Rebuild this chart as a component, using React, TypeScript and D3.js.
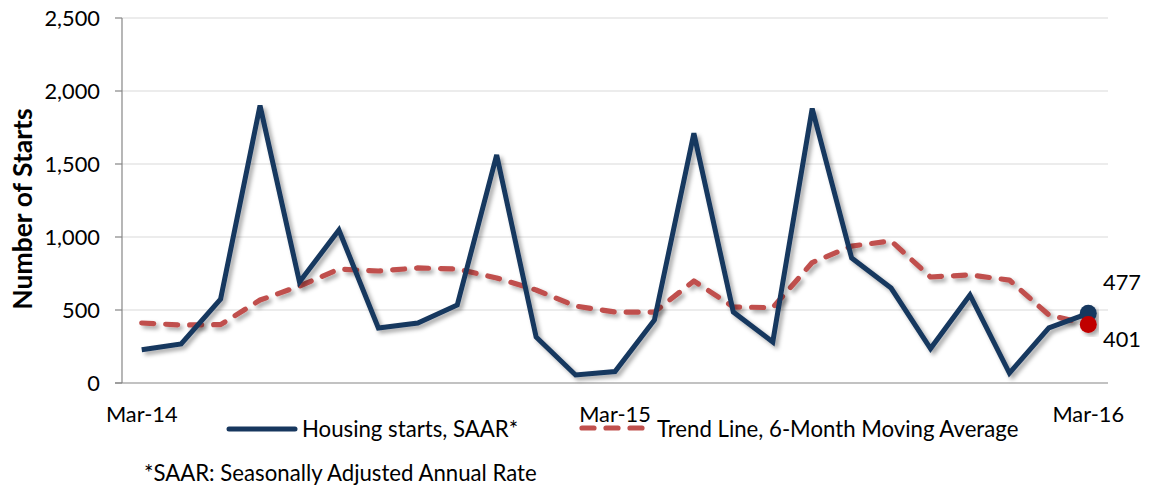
import React from "react";
import * as d3 from "d3";

const months = [
  "Mar-14","Apr-14","May-14","Jun-14","Jul-14","Aug-14","Sep-14","Oct-14","Nov-14","Dec-14",
  "Jan-15","Feb-15","Mar-15","Apr-15","May-15","Jun-15","Jul-15","Aug-15","Sep-15","Oct-15",
  "Nov-15","Dec-15","Jan-16","Feb-16","Mar-16",
];
const housingStarts = [
  228, 268, 575, 1900, 692, 1048, 377, 411, 534, 1562,
  315, 55, 78, 432, 1710, 486, 281, 1880, 856, 650,
  236, 603, 68, 377, 477,
];
const trendLine = [
  411, 397, 400, 568, 664, 780, 767, 788, 781, 719,
  637, 527, 486, 486, 699, 521, 516, 825, 938, 973,
  726, 740, 705, 466, 401,
];
const xTickLabels = ["Mar-14", "Mar-15", "Mar-16"];
const yTicks = [0, 500, 1000, 1500, 2000, 2500];

const FONT = "Lato, 'Open Sans', sans-serif";
const BLUE = "#17375E";
const RED = "#C0504D";
const RED_MARK = "#C00000";

export default function App() {
  const W = 1149, H = 491;
  const left = 122, right = 1108, top = 18, bottom = 383;
  const x = d3.scaleBand<string>().domain(months).range([left, right]).padding(0);
  const cx = (m: string) => (x(m) as number) + x.bandwidth() / 2;
  const y = d3.scaleLinear().domain([0, 2500]).range([bottom, top]);
  const fmt = d3.format(",");

  const line = d3
    .line<number>()
    .x((_, i) => cx(months[i]))
    .y((d) => y(d));

  const lastM = months[months.length - 1];
  const lastH = housingStarts[housingStarts.length - 1];
  const lastT = trendLine[trendLine.length - 1];

  return (
    <svg
      width={W}
      height={H}
      style={{ position: "absolute", left: 0, top: 0, background: "#fff" }}
      fontFamily={FONT}
    >
      <defs>
        <filter id="shadow" x="-10%" y="-10%" width="120%" height="130%">
          <feDropShadow dx="3" dy="3" stdDeviation="2.2" floodColor="#000" floodOpacity="0.35" />
        </filter>
      </defs>
      <rect width={W} height={H} fill="#fff" />
      {yTicks.filter((t) => t > 0).map((t) => (
        <line key={t} x1={left} x2={right} y1={y(t)} y2={y(t)} stroke="#D9D9D9" strokeWidth={1.2} />
      ))}
      <line x1={left} x2={left} y1={top} y2={bottom} stroke="#868686" strokeWidth={1.2} />
      <line x1={left - 7} x2={right} y1={bottom} y2={bottom} stroke="#868686" strokeWidth={1.2} />
      {yTicks.map((t) => (
        <g key={t}>
          <line x1={left - 7} x2={left} y1={y(t)} y2={y(t)} stroke="#868686" strokeWidth={1.2} />
          <text x={100} y={y(t) + 7.5} textAnchor="end" fontSize={21.8} fill="#000">
            {fmt(t)}
          </text>
        </g>
      ))}
      {xTickLabels.map((m) => (
        <text key={m} x={cx(m)} y={422} textAnchor="middle" fontSize={21.8} fill="#000">
          {m}
        </text>
      ))}
      <text
        transform={`translate(32, 209) rotate(-90)`}
        textAnchor="middle"
        fontSize={26.5}
        fontWeight="bold"
        fill="#000"
      >
        Number of Starts
      </text>

      <path
        d={line(trendLine) || ""}
        fill="none"
        stroke={RED}
        strokeWidth={5.2}
        strokeDasharray="12,12"
        strokeLinecap="round"
        strokeLinejoin="round"
        filter="url(#shadow)"
      />
      <path
        d={line(housingStarts) || ""}
        fill="none"
        stroke={BLUE}
        strokeWidth={5}
        strokeLinejoin="miter"
        filter="url(#shadow)"
      />
      <circle cx={cx(lastM)} cy={y(lastH)} r={8.5} fill={BLUE} filter="url(#shadow)" />
      <circle cx={cx(lastM)} cy={y(lastT)} r={8.5} fill={RED_MARK} filter="url(#shadow)" />
      <text x={1103} y={290} fontSize={21.8} fill="#000">{fmt(lastH)}</text>
      <text x={1103} y={347} fontSize={21.8} fill="#000">{fmt(lastT)}</text>

      <line x1={229} x2={295} y1={429} y2={429} stroke={BLUE} strokeWidth={5} strokeLinecap="round" />
      <text x={302} y={437} fontSize={22.2} fill="#000">Housing starts, SAAR*</text>
      <line
        x1={582}
        x2={642}
        y1={428}
        y2={428}
        stroke={RED}
        strokeWidth={5.2}
        strokeDasharray="12,12"
        strokeLinecap="round"
      />
      <text x={657} y={437} fontSize={22.2} fill="#000">Trend Line, 6-Month Moving Average</text>

      <text x={144} y={481} fontSize={22.2} fill="#000">*SAAR: Seasonally Adjusted Annual Rate</text>
    </svg>
  );
}
